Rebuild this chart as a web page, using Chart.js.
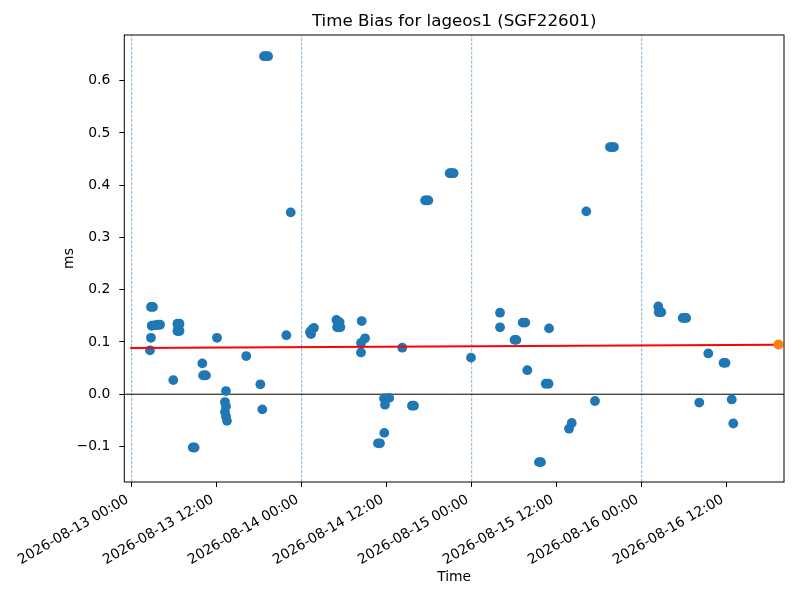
<!DOCTYPE html>
<html>
<head>
<meta charset="utf-8">
<title>Time Bias for lageos1 (SGF22601)</title>
<script src="https://cdn.jsdelivr.net/npm/chart.js@4.4.1/dist/chart.umd.min.js"></script>
<style>
  html, body { margin: 0; padding: 0; background: #fff; }
  #wrap { width: 800px; height: 600px; }
</style>
</head>
<body>
<div id="wrap"><canvas id="chart" width="800" height="600"></canvas></div>
<script>
/* Time bias scatter, x in hours since 2026-08-13 00:00 UTC */
const TITLE = "Time Bias for lageos1 (SGF22601)";
const START_UTC = Date.UTC(2026, 7, 13, 0, 0);

const xTicks = [0, 12, 24, 36, 48, 60, 72, 84];
const yTicks = [-0.1, 0, 0.1, 0.2, 0.3, 0.4, 0.5, 0.6];
const dayLines = [0, 24, 48, 72];

const biasHours = [
  2.72, 3.0, 2.82, 3.29, 3.71, 4.0, 2.72, 2.58, 6.45, 6.75,
  6.6, 6.45, 6.75, 5.87, 8.62, 8.88, 9.97, 10.08, 10.28, 10.48,
  12.04, 13.31, 13.17, 13.31, 13.17, 13.31, 13.45, 16.17, 18.16, 18.44,
  18.68, 18.96, 19.25, 22.45, 21.83, 25.17, 25.31, 25.73, 25.45, 28.9,
  29.35, 29.0, 29.45, 29.2, 32.47, 32.94, 32.37, 32.37, 38.2, 47.9,
  35.62, 36.0, 36.35, 35.76, 39.57, 39.85, 35.66, 34.77, 35.05, 41.42,
  41.65, 41.88, 44.89, 45.17, 45.45, 52.0, 52.0, 55.2, 55.56, 54.05,
  54.3, 58.92, 55.85, 58.45, 58.85, 65.4, 62.12, 61.74, 57.5, 57.78,
  64.18, 67.52, 67.8, 68.08, 74.34, 74.4, 74.58, 74.76, 77.8, 78.04,
  78.28, 81.4, 83.55, 83.83, 80.13, 84.71, 84.93,
];
const biasMs = [
  0.167, 0.167, 0.131, 0.132, 0.133, 0.133, 0.108, 0.084, 0.135, 0.135,
  0.128, 0.121, 0.121, 0.027, -0.102, -0.102, 0.059, 0.036, 0.036, 0.036,
  0.108, 0.006, -0.015, -0.023, -0.034, -0.042, -0.051, 0.073, 0.019, -0.029,
  0.647, 0.647, 0.647, 0.348, 0.113, 0.119, 0.115, 0.127, 0.124, 0.142,
  0.138, 0.128, 0.128, 0.133, 0.14, 0.107, 0.098, 0.08, 0.089, 0.07,
  -0.008, -0.008, -0.007, -0.02, -0.022, -0.022, -0.074, -0.094, -0.094, 0.371,
  0.371, 0.371, 0.423, 0.423, 0.423, 0.156, 0.128, 0.137, 0.137, 0.104,
  0.104, 0.126, 0.046, 0.02, 0.02, -0.013, -0.055, -0.066, -0.13, -0.13,
  0.35, 0.473, 0.473, 0.473, 0.168, 0.157, 0.157, 0.157, 0.146, 0.146,
  0.146, 0.078, 0.06, 0.06, -0.016, -0.01, -0.056,
];

// linear fit and its end point
const fitHours = [-0.2, 91.3];
const fitMs = [0.0885, 0.0948];
const predHours = [91.3];
const predMs = [0.095];

const X_MIN = -1.045, X_MAX = 92.09;
const Y_MIN = -0.168, Y_MAX = 0.6875;

const FONT = "'DejaVu Sans', sans-serif";

function pad2(n) {
  return String(n).padStart(2, "0");
}

function hourLabel(h) {
  const d = new Date(START_UTC + h * 3600 * 1000);
  return `${d.getUTCFullYear()}-${pad2(d.getUTCMonth() + 1)}-${pad2(d.getUTCDate())} ${pad2(d.getUTCHours())}:${pad2(d.getUTCMinutes())}`;
}

function msLabel(v) {
  const s = Math.abs(v).toFixed(1);
  return v < -1e-9 ? "\u2212" + s : s;
}

const zip = (xs, ys) => xs.map((x, i) => ({ x, y: ys[i] }));

const datasets = [];

dayLines.forEach((h) => {
  datasets.push({
    data: [{ x: h, y: Y_MIN }, { x: h, y: Y_MAX }],
    showLine: true,
    borderColor: "rgba(31,119,180,0.7)",
    borderWidth: 0.8,
    borderDash: [3, 1.5],
    pointRadius: 0,
    order: 5,
  });
});

datasets.push({
  data: [{ x: X_MIN, y: 0 }, { x: X_MAX, y: 0 }],
  showLine: true,
  borderColor: "#000",
  borderWidth: 1,
  pointRadius: 0,
  order: 4,
});

datasets.push({
  data: zip(biasHours, biasMs),
  backgroundColor: "#1f77b4",
  borderWidth: 0,
  pointRadius: 4.9,
  order: 3,
});

datasets.push({
  data: zip(fitHours, fitMs),
  showLine: true,
  borderColor: "#ff0000",
  borderWidth: 2,
  pointRadius: 0,
  order: 2,
});

datasets.push({
  data: zip(predHours, predMs),
  backgroundColor: "#ff7f0e",
  borderWidth: 0,
  pointRadius: 5,
  order: 1,
});

const framePlugin = {
  id: "frame",
  afterDatasetsDraw(chart) {
    const { ctx, chartArea: a } = chart;
    ctx.save();
    ctx.strokeStyle = "#000";
    ctx.lineWidth = 1;
    ctx.strokeRect(a.left, a.top, a.right - a.left, a.bottom - a.top);
    ctx.font = `16.7px ${FONT}`;
    ctx.fillStyle = "#000";
    ctx.textAlign = "center";
    ctx.textBaseline = "middle";
    ctx.fillText(TITLE, (a.left + a.right) / 2, 21.5);
    ctx.restore();
  },
};

new Chart(document.getElementById("chart"), {
  type: "scatter",
  data: { datasets },
  plugins: [framePlugin],
  options: {
    responsive: false,
    animation: false,
    events: [],
    layout: { padding: { top: 35, right: 16, bottom: 0, left: 0 } },
    plugins: { legend: { display: false }, tooltip: { enabled: false } },
    scales: {
      x: {
        type: "linear",
        min: X_MIN,
        max: X_MAX,
        afterBuildTicks: (s) => { s.ticks = xTicks.map((v) => ({ value: v })); },
        afterFit: (s) => { s.height = 118; },
        grid: { display: true, drawOnChartArea: false, drawTicks: true, tickLength: 5, tickColor: "#000", tickWidth: 1 },
        border: { display: false },
        ticks: {
          autoSkip: false,
          minRotation: 30,
          maxRotation: 30,
          padding: 4.5,
          labelOffset: -4,
          color: "#000",
          font: { family: FONT, size: 13.9 },
          callback: (v) => hourLabel(v),
        },
        title: {
          display: true,
          text: "Time",
          color: "#000",
          font: { family: FONT, size: 13.9 },
          padding: { top: 0, bottom: 14.6 },
        },
      },
      y: {
        type: "linear",
        min: Y_MIN,
        max: Y_MAX,
        afterBuildTicks: (s) => { s.ticks = yTicks.map((v) => ({ value: v })); },
        afterFit: (s) => { s.width = 124.3; },
        grid: { display: true, drawOnChartArea: false, drawTicks: true, tickLength: 5, tickColor: "#000", tickWidth: 1 },
        border: { display: false },
        ticks: {
          padding: 9,
          color: "#000",
          font: { family: FONT, size: 13.9 },
          callback: (v) => msLabel(v),
        },
        title: {
          display: true,
          text: "ms",
          color: "#000",
          font: { family: FONT, size: 13.9 },
          padding: { top: 60.6, bottom: 0 },
        },
      },
    },
  },
});
</script>
</body>
</html>
